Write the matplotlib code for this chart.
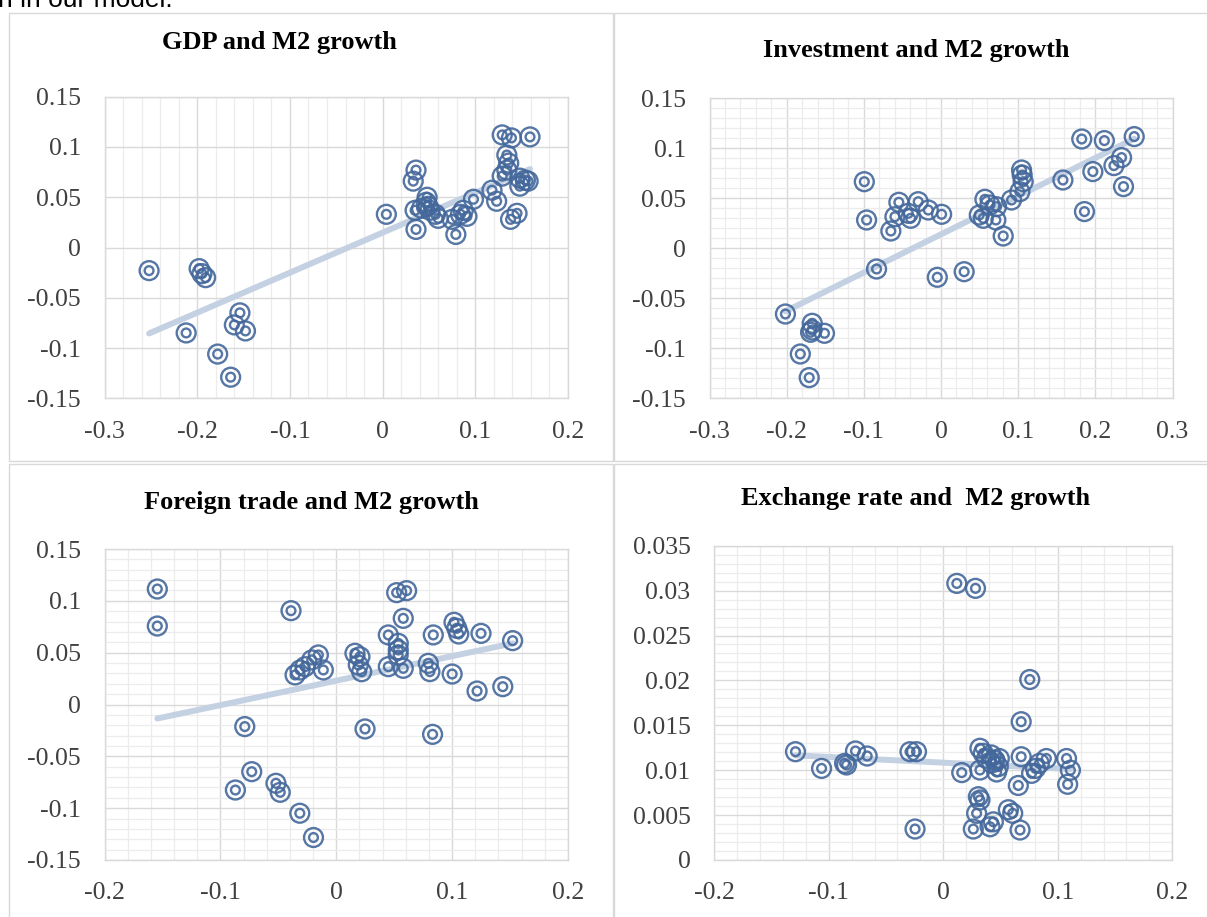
import matplotlib
matplotlib.use("Agg")
import matplotlib.pyplot as plt
import numpy as np
from matplotlib.ticker import MultipleLocator, FuncFormatter
from matplotlib.patches import Rectangle

plt.rcParams['axes.unicode_minus'] = False

# ---------------- data ----------------
gdp_x = [-0.252, -0.198, -0.195, -0.191, -0.212, -0.154, -0.160, -0.148, -0.178, -0.164,
         0.004, 0.036, 0.033, 0.036, 0.035, 0.048, 0.047, 0.049, 0.042, 0.051, 0.057, 0.060,
         0.075, 0.079, 0.084, 0.087, 0.091, 0.098, 0.118, 0.123, 0.129, 0.139, 0.159, 0.134,
         0.136, 0.134, 0.129, 0.148, 0.154, 0.157, 0.148, 0.145, 0.138]
gdp_y = [-0.023, -0.021, -0.026, -0.030, -0.085, -0.065, -0.077, -0.083, -0.106, -0.129,
         0.033, 0.077, 0.066, 0.018, 0.037, 0.050, 0.045, 0.041, 0.039, 0.037, 0.033, 0.029,
         0.028, 0.013, 0.033, 0.037, 0.031, 0.048, 0.057, 0.046, 0.112, 0.109, 0.110, 0.092,
         0.084, 0.077, 0.071, 0.069, 0.067, 0.066, 0.061, 0.034, 0.028]

inv_x = [-0.2016, -0.1669, -0.169, -0.167, -0.151, -0.1823, -0.1708, -0.0994, -0.0964, -0.0835,
         -0.0048, 0.0300, -0.065, -0.0597, -0.0546, -0.0424, -0.0393, -0.0295, -0.0165, 0.0008,
         0.0496, 0.0548, 0.0569, 0.0634, 0.072, 0.0711, 0.0806, 0.0914, 0.1044, 0.1052, 0.1065,
         0.1022, 0.158, 0.1824, 0.1859, 0.2117, 0.1968, 0.2241, 0.234, 0.2365, 0.2504]
inv_y = [-0.0657, -0.075, -0.084, -0.0817, -0.085, -0.1057, -0.1293, 0.0666, 0.0283, -0.0207,
         -0.0290, -0.0234, 0.0173, 0.0316, 0.046, 0.035, 0.030, 0.0466, 0.0383, 0.034,
         0.0333, 0.030, 0.049, 0.0433, 0.0416, 0.0283, 0.0123, 0.0483, 0.0783, 0.0733, 0.0666,
         0.0566, 0.0683, 0.1093, 0.0367, 0.1077, 0.0767, 0.0827, 0.0907, 0.0617, 0.1117]

trade_x = [-0.1545, -0.1545, -0.0391, -0.079, -0.073, -0.0871, -0.0521, -0.0484, -0.0315, -0.0197,
           -0.0356, -0.0313, -0.027, -0.0212, -0.0155, -0.0112, 0.0161, 0.0204, 0.019, 0.0219,
           0.0248, 0.0449, 0.0449, 0.0521, 0.0607, 0.0578, 0.0535, 0.0535, 0.0534, 0.0578,
           0.0794, 0.0808, 0.0831, 0.0837, 0.100, 0.1016, 0.104, 0.1057, 0.1215, 0.1249,
           0.1437, 0.1522]
trade_y = [0.1114, 0.0757, 0.0905, -0.0213, -0.0648, -0.0825, -0.076, -0.0847, -0.1049, -0.1283,
           0.0285, 0.0333, 0.0365, 0.043, 0.0478, 0.0333, 0.0494, 0.0461, 0.0381, 0.0316,
           -0.0236, 0.0671, 0.0365, 0.1079, 0.1098, 0.0831, 0.0590, 0.0526, 0.0477, 0.0349,
           0.0397, 0.0317, -0.0288, 0.0671, 0.0294, 0.0793, 0.0735, 0.068, 0.013, 0.0686,
           0.0172, 0.0616]

fx_x = [-0.129, -0.1062, -0.0861, -0.0844, -0.0766, -0.0664, -0.029, -0.0233, -0.0246, 0.0119,
        0.0282, 0.0756, 0.0681, 0.0162, 0.0321, 0.035, 0.0379, 0.0321, 0.0423, 0.0452,
        0.0481, 0.0467, 0.042, 0.049, 0.0307, 0.0321, 0.0292, 0.0263, 0.0409, 0.0438,
        0.0569, 0.0607, 0.0671, 0.0681, 0.0656, 0.0772, 0.0806, 0.084, 0.0901, 0.1077,
        0.1111, 0.1087]
fx_y = [0.01206, 0.0102, 0.01076, 0.01058, 0.01214, 0.01158, 0.01206, 0.01206, 0.00345, 0.0308,
        0.03025, 0.0201, 0.0154, 0.00973, 0.01244, 0.01188, 0.01132, 0.01002, 0.0108, 0.0111,
        0.0104, 0.0098, 0.0117, 0.0113, 0.00705, 0.00668, 0.0052, 0.00345, 0.0037, 0.00425,
        0.0056, 0.0052, 0.00334, 0.0115, 0.0083, 0.00965, 0.0102, 0.01076, 0.0113, 0.0113,
        0.0100, 0.00843]

titles = ["GDP and M2 growth", "Investment and M2 growth",
          "Foreign trade and M2 growth", "Exchange rate and  M2 growth"]

# ---------------- figure ----------------
W, H = 1207, 917
fig = plt.figure(figsize=(W / 100, H / 100), dpi=100)
fig.patch.set_facecolor('white')

SERIF = ['Liberation Serif', 'DejaVu Serif']
MARK = '#44689b'
TREND = '#c4d1e2'


def px_axes(l, r, t, b):
    return fig.add_axes([l / W, 1 - b / H, (r - l) / W, (b - t) / H])


def fmt(v, pos):
    s = ('%.4f' % v).rstrip('0').rstrip('.')
    if s in ('-0', ''):
        s = '0'
    return s


panels = [
    dict(box=(104.6, 568.0, 96.7, 398.3), x=gdp_x, y=gdp_y, xlim=(-0.3, 0.2), ylim=(-0.15, 0.15),
         xmaj=0.1, xmin=0.02, ymaj=0.05, ymin=None, title=(279, 42)),
    dict(box=(709.5, 1172.5, 98.3, 398.3), x=inv_x, y=inv_y, xlim=(-0.3, 0.3), ylim=(-0.15, 0.15),
         xmaj=0.1, xmin=0.02, ymaj=0.05, ymin=0.01, title=(916, 50)),
    dict(box=(104.6, 568.0, 549.0, 860.0), x=trade_x, y=trade_y, xlim=(-0.2, 0.2), ylim=(-0.15, 0.15),
         xmaj=0.1, xmin=0.02, ymaj=0.05, ymin=0.01, title=(311, 502)),
    dict(box=(714.2, 1172.2, 545.7, 860.0), x=fx_x, y=fx_y, xlim=(-0.2, 0.2), ylim=(0, 0.035),
         xmaj=0.1, xmin=0.02, ymaj=0.005, ymin=0.001, title=(916, 498)),
]

# panel frames
for (l, t, r, b) in [(8.5, 12.7, 613.0, 461.0), (613.5, 12.7, 1212, 461.0),
                     (8.5, 464.5, 613.0, 922), (613.5, 464.5, 1212, 922)]:
    fig.add_artist(Rectangle((l / W, 1 - b / H), (r - l) / W, (b - t) / H,
                             transform=fig.transFigure, fill=False,
                             edgecolor='#d9d9d9', lw=1.0))

for p, title in zip(panels, titles):
    ax = px_axes(*p['box'])
    xs = np.array(p['x'])
    ys = np.array(p['y'])
    ax.set_xlim(*p['xlim'])
    ax.set_ylim(*p['ylim'])
    ax.xaxis.set_major_locator(MultipleLocator(p['xmaj']))
    ax.xaxis.set_minor_locator(MultipleLocator(p['xmin']))
    ax.yaxis.set_major_locator(MultipleLocator(p['ymaj']))
    if p['ymin']:
        ax.yaxis.set_minor_locator(MultipleLocator(p['ymin']))
    ax.set_axisbelow(True)
    ax.grid(which='minor', axis='x', color='#ececec', lw=0.9)
    if p['ymin']:
        ax.grid(which='minor', axis='y', color='#ececec', lw=0.9)
    ax.grid(which='major', color='#d9d9d9', lw=1.0)
    for s in ax.spines.values():
        s.set_color('#d9d9d9')
        s.set_linewidth(1.0)
    ax.tick_params(which='both', length=0)
    ax.tick_params(axis='y', pad=17.0)
    ax.tick_params(axis='x', pad=16)
    ax.xaxis.set_major_formatter(FuncFormatter(fmt))
    ax.yaxis.set_major_formatter(FuncFormatter(fmt))
    for lab in ax.get_xticklabels() + ax.get_yticklabels():
        lab.set_fontfamily(SERIF)
        lab.set_fontsize(18.5)
        lab.set_color('#404040')

    # linear trend line (least squares) spanning the data range
    k, c = np.polyfit(xs, ys, 1)
    tx = np.array([xs.min(), xs.max()])
    ax.plot(tx, k * tx + c, color=TREND, lw=4.3, solid_capstyle='round', zorder=2)

    ax.scatter(xs, ys, s=185, facecolors='none', edgecolors=MARK, linewidths=1.7,
               alpha=0.9, zorder=3)
    ax.scatter(xs, ys, s=40, facecolors='none', edgecolors=MARK, linewidths=1.7,
               alpha=0.9, zorder=3)

    tx_, ty_ = p['title']
    fig.text(tx_ / W, 1 - ty_ / H, title, ha='center', va='center',
             fontsize=19, fontweight='bold', family=SERIF, color='black')

fig.text(-2 / W, 1 - 7.3 / H, "n in our model.", ha='left', va='baseline',
         fontsize=19, family=['Liberation Sans', 'DejaVu Sans'], color='black')

fig.savefig('out.png', dpi=100, facecolor='white')
